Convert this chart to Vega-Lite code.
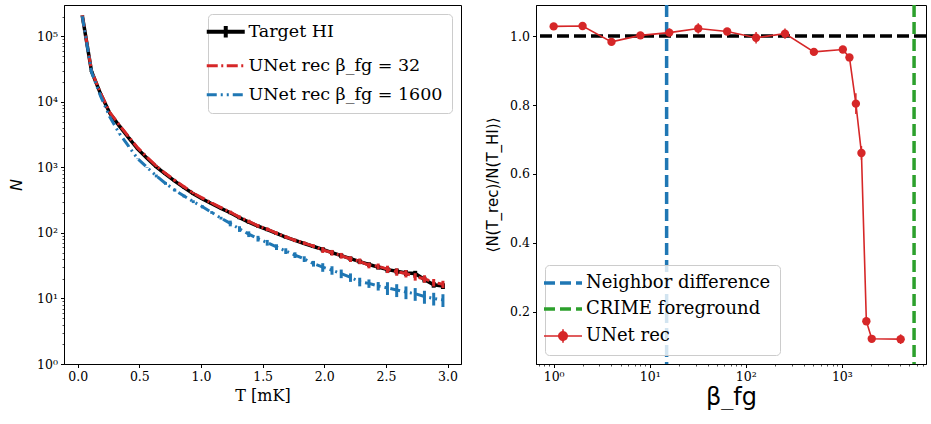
{
  "$schema": "https://vega.github.io/schema/vega-lite/v6.json",
  "padding": {"left": 8, "top": 2, "right": 0, "bottom": 0},
  "spacing": 23,
  "resolve": {"scale": {"color": "independent"}, "legend": {"color": "independent"}},
  "datasets": {
    "hist": [
      {"series": "Target HI", "T": 0.0375, "N": 205000, "lo": 203000, "hi": 207000},
      {"series": "Target HI", "T": 0.1125, "N": 29000, "lo": 28700, "hi": 29300},
      {"series": "Target HI", "T": 0.1875, "N": 13000, "lo": 12870, "hi": 13130},
      {"series": "Target HI", "T": 0.2625, "N": 6600, "lo": 6530, "hi": 6670},
      {"series": "Target HI", "T": 0.3375, "N": 4300, "lo": 4257, "hi": 4343},
      {"series": "Target HI", "T": 0.4125, "N": 2850, "lo": 2820, "hi": 2880},
      {"series": "Target HI", "T": 0.4875, "N": 1900, "lo": 1880, "hi": 1920},
      {"series": "Target HI", "T": 0.5625, "N": 1380, "lo": 1366, "hi": 1394},
      {"series": "Target HI", "T": 0.6375, "N": 1020, "lo": 990, "hi": 1050},
      {"series": "Target HI", "T": 0.7125, "N": 790, "lo": 766, "hi": 814},
      {"series": "Target HI", "T": 0.7875, "N": 615, "lo": 597, "hi": 633},
      {"series": "Target HI", "T": 0.8625, "N": 490, "lo": 475, "hi": 505},
      {"series": "Target HI", "T": 0.9375, "N": 395, "lo": 383, "hi": 407},
      {"series": "Target HI", "T": 1.0125, "N": 330, "lo": 320, "hi": 340},
      {"series": "Target HI", "T": 1.0875, "N": 278, "lo": 270, "hi": 286},
      {"series": "Target HI", "T": 1.1625, "N": 237, "lo": 230, "hi": 244},
      {"series": "Target HI", "T": 1.2375, "N": 203, "lo": 193, "hi": 213},
      {"series": "Target HI", "T": 1.3125, "N": 170, "lo": 161.5, "hi": 178.5},
      {"series": "Target HI", "T": 1.3875, "N": 146, "lo": 138.7, "hi": 153.3},
      {"series": "Target HI", "T": 1.4625, "N": 127, "lo": 120.7, "hi": 133.3},
      {"series": "Target HI", "T": 1.5375, "N": 112, "lo": 106.4, "hi": 117.6},
      {"series": "Target HI", "T": 1.6125, "N": 98, "lo": 93.1, "hi": 102.9},
      {"series": "Target HI", "T": 1.6875, "N": 86, "lo": 81.7, "hi": 90.3},
      {"series": "Target HI", "T": 1.7625, "N": 77, "lo": 73.2, "hi": 80.9},
      {"series": "Target HI", "T": 1.8375, "N": 69, "lo": 65.6, "hi": 72.5},
      {"series": "Target HI", "T": 1.9125, "N": 62, "lo": 58.9, "hi": 65.1},
      {"series": "Target HI", "T": 1.9875, "N": 56, "lo": 51.5, "hi": 60.5},
      {"series": "Target HI", "T": 2.0625, "N": 50, "lo": 46, "hi": 54},
      {"series": "Target HI", "T": 2.1375, "N": 45, "lo": 41.4, "hi": 48.6},
      {"series": "Target HI", "T": 2.2125, "N": 40.5, "lo": 37.3, "hi": 43.7},
      {"series": "Target HI", "T": 2.2875, "N": 36.5, "lo": 33.6, "hi": 39.4},
      {"series": "Target HI", "T": 2.3625, "N": 33, "lo": 30.4, "hi": 35.6},
      {"series": "Target HI", "T": 2.4375, "N": 30, "lo": 27.6, "hi": 32.4},
      {"series": "Target HI", "T": 2.5125, "N": 27.5, "lo": 24.75, "hi": 30.25},
      {"series": "Target HI", "T": 2.5875, "N": 26, "lo": 23.4, "hi": 28.6},
      {"series": "Target HI", "T": 2.6625, "N": 24.5, "lo": 22.05, "hi": 26.95},
      {"series": "Target HI", "T": 2.7375, "N": 24, "lo": 21.6, "hi": 26.4},
      {"series": "Target HI", "T": 2.8125, "N": 19.5, "lo": 17.55, "hi": 21.45},
      {"series": "Target HI", "T": 2.8875, "N": 16.2, "lo": 14.6, "hi": 17.8},
      {"series": "Target HI", "T": 2.9625, "N": 15.5, "lo": 13.95, "hi": 17.05},

      {"series": "UNet rec β_fg = 32", "T": 0.0375, "N": 205000, "lo": 203000, "hi": 207000},
      {"series": "UNet rec β_fg = 32", "T": 0.1125, "N": 29500, "lo": 29200, "hi": 29800},
      {"series": "UNet rec β_fg = 32", "T": 0.1875, "N": 13300, "lo": 13170, "hi": 13430},
      {"series": "UNet rec β_fg = 32", "T": 0.2625, "N": 6800, "lo": 6730, "hi": 6870},
      {"series": "UNet rec β_fg = 32", "T": 0.3375, "N": 4450, "lo": 4400, "hi": 4500},
      {"series": "UNet rec β_fg = 32", "T": 0.4125, "N": 2950, "lo": 2920, "hi": 2980},
      {"series": "UNet rec β_fg = 32", "T": 0.4875, "N": 1980, "lo": 1960, "hi": 2000},
      {"series": "UNet rec β_fg = 32", "T": 0.5625, "N": 1430, "lo": 1416, "hi": 1444},
      {"series": "UNet rec β_fg = 32", "T": 0.6375, "N": 1050, "lo": 1008, "hi": 1092},
      {"series": "UNet rec β_fg = 32", "T": 0.7125, "N": 810, "lo": 778, "hi": 842},
      {"series": "UNet rec β_fg = 32", "T": 0.7875, "N": 635, "lo": 610, "hi": 660},
      {"series": "UNet rec β_fg = 32", "T": 0.8625, "N": 505, "lo": 485, "hi": 525},
      {"series": "UNet rec β_fg = 32", "T": 0.9375, "N": 405, "lo": 389, "hi": 421},
      {"series": "UNet rec β_fg = 32", "T": 1.0125, "N": 340, "lo": 326, "hi": 354},
      {"series": "UNet rec β_fg = 32", "T": 1.0875, "N": 285, "lo": 274, "hi": 296},
      {"series": "UNet rec β_fg = 32", "T": 1.1625, "N": 243, "lo": 233, "hi": 253},
      {"series": "UNet rec β_fg = 32", "T": 1.2375, "N": 207, "lo": 195, "hi": 219},
      {"series": "UNet rec β_fg = 32", "T": 1.3125, "N": 174, "lo": 164, "hi": 184},
      {"series": "UNet rec β_fg = 32", "T": 1.3875, "N": 150, "lo": 141, "hi": 159},
      {"series": "UNet rec β_fg = 32", "T": 1.4625, "N": 128, "lo": 120, "hi": 136},
      {"series": "UNet rec β_fg = 32", "T": 1.5375, "N": 114, "lo": 107, "hi": 121},
      {"series": "UNet rec β_fg = 32", "T": 1.6125, "N": 99, "lo": 93, "hi": 105},
      {"series": "UNet rec β_fg = 32", "T": 1.6875, "N": 87, "lo": 82, "hi": 92},
      {"series": "UNet rec β_fg = 32", "T": 1.7625, "N": 77, "lo": 72.4, "hi": 81.6},
      {"series": "UNet rec β_fg = 32", "T": 1.8375, "N": 70, "lo": 65.8, "hi": 74.2},
      {"series": "UNet rec β_fg = 32", "T": 1.9125, "N": 63, "lo": 59.2, "hi": 66.8},
      {"series": "UNet rec β_fg = 32", "T": 1.9875, "N": 55, "lo": 49.5, "hi": 60.5},
      {"series": "UNet rec β_fg = 32", "T": 2.0625, "N": 50, "lo": 45, "hi": 55},
      {"series": "UNet rec β_fg = 32", "T": 2.1375, "N": 45, "lo": 40.5, "hi": 49.5},
      {"series": "UNet rec β_fg = 32", "T": 2.2125, "N": 40, "lo": 36, "hi": 44},
      {"series": "UNet rec β_fg = 32", "T": 2.2875, "N": 37, "lo": 33.3, "hi": 40.7},
      {"series": "UNet rec β_fg = 32", "T": 2.3625, "N": 32, "lo": 28.8, "hi": 35.2},
      {"series": "UNet rec β_fg = 32", "T": 2.4375, "N": 31, "lo": 27.9, "hi": 34.1},
      {"series": "UNet rec β_fg = 32", "T": 2.5125, "N": 28, "lo": 24.4, "hi": 31.6},
      {"series": "UNet rec β_fg = 32", "T": 2.5875, "N": 25.5, "lo": 22.2, "hi": 28.8},
      {"series": "UNet rec β_fg = 32", "T": 2.6625, "N": 24, "lo": 20.9, "hi": 27.1},
      {"series": "UNet rec β_fg = 32", "T": 2.7375, "N": 21.5, "lo": 18.7, "hi": 24.3},
      {"series": "UNet rec β_fg = 32", "T": 2.8125, "N": 20, "lo": 17.4, "hi": 22.6},
      {"series": "UNet rec β_fg = 32", "T": 2.8875, "N": 17.5, "lo": 15.2, "hi": 19.8},
      {"series": "UNet rec β_fg = 32", "T": 2.9625, "N": 16.5, "lo": 14.4, "hi": 18.6},

      {"series": "UNet rec β_fg = 1600", "T": 0.0375, "N": 200000, "lo": 198000, "hi": 202000},
      {"series": "UNet rec β_fg = 1600", "T": 0.1125, "N": 28500, "lo": 28200, "hi": 28800},
      {"series": "UNet rec β_fg = 1600", "T": 0.1875, "N": 12000, "lo": 11880, "hi": 12120},
      {"series": "UNet rec β_fg = 1600", "T": 0.2625, "N": 5800, "lo": 5740, "hi": 5860},
      {"series": "UNet rec β_fg = 1600", "T": 0.3375, "N": 3300, "lo": 3267, "hi": 3333},
      {"series": "UNet rec β_fg = 1600", "T": 0.4125, "N": 2100, "lo": 2079, "hi": 2121},
      {"series": "UNet rec β_fg = 1600", "T": 0.4875, "N": 1350, "lo": 1336, "hi": 1364},
      {"series": "UNet rec β_fg = 1600", "T": 0.5625, "N": 1000, "lo": 990, "hi": 1010},
      {"series": "UNet rec β_fg = 1600", "T": 0.6375, "N": 740, "lo": 703, "hi": 777},
      {"series": "UNet rec β_fg = 1600", "T": 0.7125, "N": 570, "lo": 541, "hi": 599},
      {"series": "UNet rec β_fg = 1600", "T": 0.7875, "N": 450, "lo": 427, "hi": 473},
      {"series": "UNet rec β_fg = 1600", "T": 0.8625, "N": 365, "lo": 347, "hi": 383},
      {"series": "UNet rec β_fg = 1600", "T": 0.9375, "N": 300, "lo": 285, "hi": 315},
      {"series": "UNet rec β_fg = 1600", "T": 1.0125, "N": 250, "lo": 237, "hi": 263},
      {"series": "UNet rec β_fg = 1600", "T": 1.0875, "N": 205, "lo": 195, "hi": 215},
      {"series": "UNet rec β_fg = 1600", "T": 1.1625, "N": 168, "lo": 160, "hi": 176},
      {"series": "UNet rec β_fg = 1600", "T": 1.2375, "N": 140, "lo": 126, "hi": 154},
      {"series": "UNet rec β_fg = 1600", "T": 1.3125, "N": 115, "lo": 103.5, "hi": 126.5},
      {"series": "UNet rec β_fg = 1600", "T": 1.3875, "N": 96, "lo": 86.4, "hi": 105.6},
      {"series": "UNet rec β_fg = 1600", "T": 1.4625, "N": 82, "lo": 73.8, "hi": 90.2},
      {"series": "UNet rec β_fg = 1600", "T": 1.5375, "N": 71, "lo": 63.9, "hi": 78.1},
      {"series": "UNet rec β_fg = 1600", "T": 1.6125, "N": 61, "lo": 54.9, "hi": 67.1},
      {"series": "UNet rec β_fg = 1600", "T": 1.6875, "N": 53, "lo": 47.7, "hi": 58.3},
      {"series": "UNet rec β_fg = 1600", "T": 1.7625, "N": 46, "lo": 41.4, "hi": 50.6},
      {"series": "UNet rec β_fg = 1600", "T": 1.8375, "N": 40, "lo": 36, "hi": 44},
      {"series": "UNet rec β_fg = 1600", "T": 1.9125, "N": 34, "lo": 30.6, "hi": 37.4},
      {"series": "UNet rec β_fg = 1600", "T": 1.9875, "N": 30, "lo": 25.5, "hi": 34.5},
      {"series": "UNet rec β_fg = 1600", "T": 2.0625, "N": 27, "lo": 23, "hi": 31},
      {"series": "UNet rec β_fg = 1600", "T": 2.1375, "N": 24, "lo": 20.4, "hi": 27.6},
      {"series": "UNet rec β_fg = 1600", "T": 2.2125, "N": 21, "lo": 17.9, "hi": 24.1},
      {"series": "UNet rec β_fg = 1600", "T": 2.2875, "N": 18, "lo": 15.3, "hi": 20.7},
      {"series": "UNet rec β_fg = 1600", "T": 2.3625, "N": 17, "lo": 14.5, "hi": 19.5},
      {"series": "UNet rec β_fg = 1600", "T": 2.4375, "N": 15.5, "lo": 13.2, "hi": 17.8},
      {"series": "UNet rec β_fg = 1600", "T": 2.5125, "N": 14.5, "lo": 11.3, "hi": 17.7},
      {"series": "UNet rec β_fg = 1600", "T": 2.5875, "N": 13.5, "lo": 10.5, "hi": 16.5},
      {"series": "UNet rec β_fg = 1600", "T": 2.6625, "N": 12.5, "lo": 9.75, "hi": 15.25},
      {"series": "UNet rec β_fg = 1600", "T": 2.7375, "N": 11.8, "lo": 9.2, "hi": 14.4},
      {"series": "UNet rec β_fg = 1600", "T": 2.8125, "N": 10.7, "lo": 8.3, "hi": 13.1},
      {"series": "UNet rec β_fg = 1600", "T": 2.8875, "N": 10, "lo": 7.8, "hi": 12.2},
      {"series": "UNet rec β_fg = 1600", "T": 2.9625, "N": 9.5, "lo": 7.4, "hi": 11.6}
    ],
    "ratio": [
      {"label": "UNet rec", "beta": 1, "r": 1.028, "lo": 1.023, "hi": 1.033},
      {"label": "UNet rec", "beta": 2, "r": 1.029, "lo": 1.024, "hi": 1.034},
      {"label": "UNet rec", "beta": 4, "r": 0.983, "lo": 0.975, "hi": 0.991},
      {"label": "UNet rec", "beta": 8, "r": 1.002, "lo": 0.996, "hi": 1.008},
      {"label": "UNet rec", "beta": 16, "r": 1.010, "lo": 0.998, "hi": 1.022},
      {"label": "UNet rec", "beta": 32, "r": 1.022, "lo": 1.007, "hi": 1.037},
      {"label": "UNet rec", "beta": 64, "r": 1.013, "lo": 1.003, "hi": 1.023},
      {"label": "UNet rec", "beta": 128, "r": 0.995, "lo": 0.978, "hi": 1.012},
      {"label": "UNet rec", "beta": 256, "r": 1.007, "lo": 0.992, "hi": 1.022},
      {"label": "UNet rec", "beta": 512, "r": 0.954, "lo": 0.946, "hi": 0.962},
      {"label": "UNet rec", "beta": 1024, "r": 0.961, "lo": 0.953, "hi": 0.969},
      {"label": "UNet rec", "beta": 1200, "r": 0.938, "lo": 0.928, "hi": 0.948},
      {"label": "UNet rec", "beta": 1400, "r": 0.804, "lo": 0.774, "hi": 0.834},
      {"label": "UNet rec", "beta": 1600, "r": 0.661, "lo": 0.641, "hi": 0.681},
      {"label": "UNet rec", "beta": 1800, "r": 0.173, "lo": 0.163, "hi": 0.183},
      {"label": "UNet rec", "beta": 2048, "r": 0.122, "lo": 0.116, "hi": 0.128},
      {"label": "UNet rec", "beta": 4096, "r": 0.121, "lo": 0.107, "hi": 0.135}
    ],
    "vlines": [
      {"label": "Neighbor difference", "beta": 15},
      {"label": "CRIME foreground", "beta": 5650}
    ],
    "hline": [{"ref": 1.0}]
  },
  "config": {
    "view": {"stroke": "black", "strokeWidth": 1},
    "axis": {
      "labelFont": "DejaVu Serif",
      "labelFontSize": 12.5,
      "labelColor": "black",
      "domainColor": "black",
      "tickColor": "black",
      "tickSize": 3.5,
      "labelPadding": 3,
      "grid": false,
      "titleColor": "black",
      "titleFontWeight": "normal",
      "labelOverlap": false
    },
    "legend": {
      "labelFont": "DejaVu Serif",
      "labelColor": "black",
      "labelLimit": 0,
      "fillColor": "rgba(255,255,255,0.8)",
      "strokeColor": "#cccccc",
      "cornerRadius": 4,
      "padding": 9,
      "symbolSize": 1444,
      "labelOffset": 14,
      "title": null
    }
  },
  "hconcat": [
    {
      "width": 397,
      "height": 359,
      "data": {"name": "hist"},
      "encoding": {
        "x": {
          "field": "T", "type": "quantitative",
          "scale": {"domain": [-0.111, 3.109], "nice": false, "zero": false},
          "axis": {"values": [0, 0.5, 1, 1.5, 2, 2.5, 3], "format": ".1f", "title": "T [mK]", "titleFont": "DejaVu Serif", "titleFontSize": 16, "titlePadding": 4}
        },
        "color": {
          "field": "series", "type": "nominal",
          "scale": {"domain": ["Target HI", "UNet rec β_fg = 32", "UNet rec β_fg = 1600"], "range": ["black", "#d62728", "#1f77b4"]},
          "legend": {
            "orient": "top-right", "offset": 9, "labelFontSize": 17.5, "rowPadding": 10, "symbolStrokeWidth": 3,
            "symbolType": "stroke",
            "encode": {
              "symbols": {
                "update": {
                  "shape": {"signal": "datum.value === 'Target HI' ? 'M-1,0H1M0,-0.3V0.3' : 'stroke'"},
                  "strokeDash": {"signal": "datum.value === 'UNet rec β_fg = 32' ? [11,3.5,2,3.5] : datum.value === 'UNet rec β_fg = 1600' ? [10,4,2,4,2,4] : [1,0]"},
                  "strokeWidth": {"signal": "datum.value === 'Target HI' ? 4 : 3"}
                }
              }
            }
          }
        }
      },
      "layer": [
        {
          "transform": [{"filter": "datum.series === 'Target HI'"}],
          "mark": {"type": "rule", "strokeWidth": 4},
          "encoding": {
            "y": {"field": "lo", "type": "quantitative"},
            "y2": {"field": "hi"}
          }
        },
        {
          "transform": [{"filter": "datum.series === 'Target HI'"}],
          "mark": {"type": "line", "strokeWidth": 3.5},
          "encoding": {
            "y": {
              "field": "N", "type": "quantitative",
              "scale": {"type": "log", "domain": [1, 300000], "nice": false},
              "axis": {
                "title": "N", "titleFont": "DejaVu Sans", "titleFontStyle": "italic", "titleFontSize": 16, "titlePadding": 12,
                "values": [1,2,3,4,5,6,7,8,9,10,20,30,40,50,60,70,80,90,100,200,300,400,500,600,700,800,900,1000,2000,3000,4000,5000,6000,7000,8000,9000,10000,20000,30000,40000,50000,60000,70000,80000,90000,100000,200000],
                "labelExpr": "abs(log(datum.value)/LN10 - round(log(datum.value)/LN10)) < 0.000001 ? '10' + ['⁰','¹','²','³','⁴','⁵'][round(log(datum.value)/LN10)] : ''",
                "tickSize": {"condition": {"test": "abs(log(datum.value)/LN10 - round(log(datum.value)/LN10)) < 0.000001", "value": 3.5}, "value": 2},
                "tickWidth": {"condition": {"test": "abs(log(datum.value)/LN10 - round(log(datum.value)/LN10)) < 0.000001", "value": 1}, "value": 0.7}
              }
            }
          }
        },
        {
          "transform": [{"filter": "datum.series === 'UNet rec β_fg = 32'"}],
          "mark": {"type": "rule", "strokeWidth": 3},
          "encoding": {
            "y": {"field": "lo", "type": "quantitative"},
            "y2": {"field": "hi"}
          }
        },
        {
          "transform": [{"filter": "datum.series === 'UNet rec β_fg = 32'"}],
          "mark": {"type": "line", "strokeWidth": 3, "strokeDash": [11, 3.5, 2, 3.5]},
          "encoding": {"y": {"field": "N", "type": "quantitative"}}
        },
        {
          "transform": [{"filter": "datum.series === 'UNet rec β_fg = 1600'"}],
          "mark": {"type": "rule", "strokeWidth": 3},
          "encoding": {
            "y": {"field": "lo", "type": "quantitative"},
            "y2": {"field": "hi"}
          }
        },
        {
          "transform": [{"filter": "datum.series === 'UNet rec β_fg = 1600'"}],
          "mark": {"type": "line", "strokeWidth": 3, "strokeDash": [10, 4, 2, 4, 2, 4]},
          "encoding": {"y": {"field": "N", "type": "quantitative"}}
        }
      ]
    },
    {
      "width": 390,
      "height": 359,
      "encoding": {
        "x": {
          "field": "beta", "type": "quantitative",
          "scale": {"type": "log", "domain": [0.655, 7520], "nice": false},
          "axis": {
            "title": "β_fg", "titleFont": "DejaVu Sans", "titleFontSize": 24, "titlePadding": 2,
            "values": [0.7,0.8,0.9,1,2,3,4,5,6,7,8,9,10,20,30,40,50,60,70,80,90,100,200,300,400,500,600,700,800,900,1000,2000,3000,4000,5000,6000,7000],
            "labelExpr": "abs(log(datum.value)/LN10 - round(log(datum.value)/LN10)) < 0.000001 ? '10' + ['⁰','¹','²','³','⁴','⁵'][round(log(datum.value)/LN10)] : ''",
            "tickSize": {"condition": {"test": "abs(log(datum.value)/LN10 - round(log(datum.value)/LN10)) < 0.000001", "value": 3.5}, "value": 2},
            "tickWidth": {"condition": {"test": "abs(log(datum.value)/LN10 - round(log(datum.value)/LN10)) < 0.000001", "value": 1}, "value": 0.7}
          }
        },
        "color": {
          "field": "label", "type": "nominal",
          "scale": {"domain": ["Neighbor difference", "CRIME foreground", "UNet rec"], "range": ["#1f77b4", "#2ca02c", "#d62728"]},
          "legend": {
            "orient": "bottom-left", "offset": 9, "labelFontSize": 18, "rowPadding": 8, "symbolType": "stroke",
            "encode": {
              "symbols": {
                "update": {
                  "shape": {"signal": "datum.value === 'UNet rec' ? 'M-1,0H1M0,-0.35V0.35M-0.22,0A0.22,0.22 0 1,0 0.22,0A0.22,0.22 0 1,0 -0.22,0Z' : 'stroke'"},
                  "strokeDash": {"signal": "datum.value === 'UNet rec' ? [1,0] : [11,5]"},
                  "strokeWidth": {"signal": "datum.value === 'UNet rec' ? 1.6 : 3.5"},
                  "fill": {"signal": "datum.value === 'UNet rec' ? '#d62728' : 'transparent'"},
                  "fillOpacity": {"value": 1}
                }
              }
            }
          }
        }
      },
      "layer": [
        {
          "data": {"name": "hline"},
          "mark": {"type": "rule", "color": "black", "strokeWidth": 3.5, "strokeDash": [12, 5]},
          "encoding": {
            "x": null,
            "color": null,
            "y": {
              "field": "ref", "type": "quantitative",
              "scale": {"domain": [0.049, 1.09], "nice": false, "zero": false},
              "axis": {
                "values": [0.2, 0.4, 0.6, 0.8, 1.0], "format": ".1f",
                "title": "⟨N(T_rec)/N(T_HI)⟩", "titleFont": "DejaVu Sans", "titleFontSize": 15, "titlePadding": 9
              }
            }
          }
        },
        {
          "data": {"name": "vlines"},
          "mark": {"type": "rule", "strokeWidth": 3.5, "strokeDash": [12, 5]},
          "encoding": {}
        },
        {
          "data": {"name": "ratio"},
          "mark": {"type": "rule", "strokeWidth": 1.5},
          "encoding": {
            "y": {"field": "lo", "type": "quantitative"},
            "y2": {"field": "hi"}
          }
        },
        {
          "data": {"name": "ratio"},
          "mark": {"type": "line", "strokeWidth": 1.6},
          "encoding": {"y": {"field": "r", "type": "quantitative"}}
        },
        {
          "data": {"name": "ratio"},
          "mark": {"type": "point", "filled": true, "opacity": 1, "size": 70, "shape": "circle"},
          "encoding": {"y": {"field": "r", "type": "quantitative"}}
        }
      ]
    }
  ]
}
